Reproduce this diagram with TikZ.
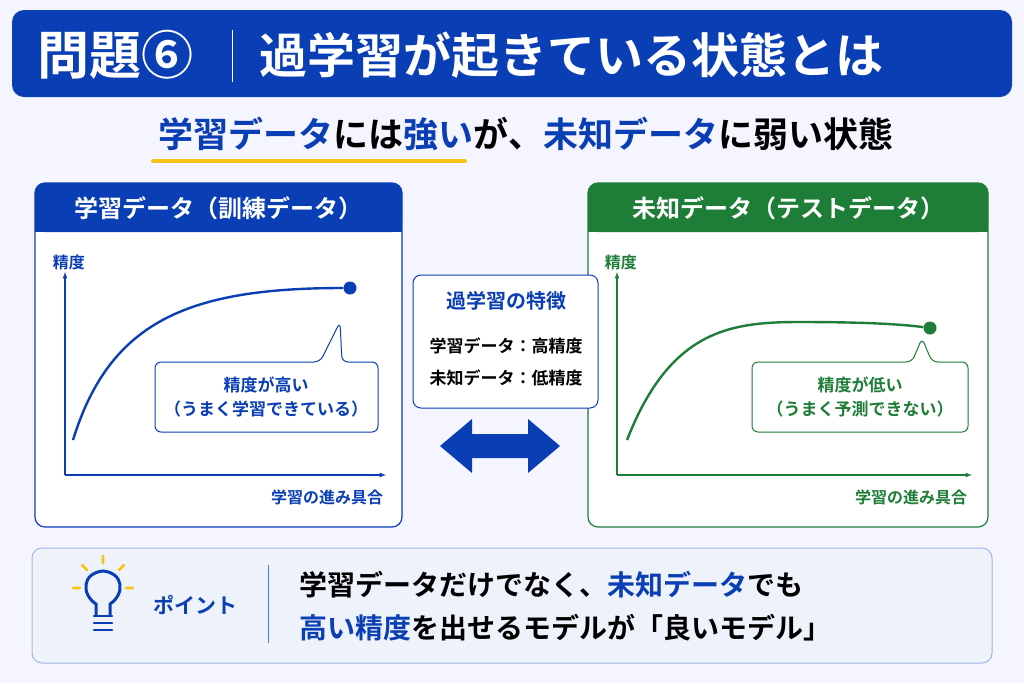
\documentclass[tikz,border=0pt]{standalone}
\usepackage{fontspec}
\setmainfont{Noto Sans CJK JP}
\newfontfamily\jpbold{Noto Sans CJK JP Bold}
\usetikzlibrary{positioning}
\definecolor{mainblue}{RGB}{10,62,180}
\definecolor{maingreen}{RGB}{30,125,55}
\definecolor{pointbg}{RGB}{238,242,251}
\definecolor{pointline}{RGB}{160,180,230}
\definecolor{markyellow}{RGB}{248,196,20}
\tikzset{
  hdr/.style={text=white,font=\jpbold\fontsize{24}{24}\selectfont},
  lbl/.style={font=\jpbold\fontsize{16}{16}\selectfont,inner sep=0.75pt},
  calltext/.style={font=\jpbold\fontsize{17}{19}\selectfont,align=center,inner sep=0.75pt},
}
\begin{document}
\begin{tikzpicture}[x=1pt,y=1pt,yscale=-1]
\useasboundingbox (0,0) rectangle (1024,683);
\fill[white!96!blue] (0,0) rectangle (1024,683);

% Title bar
\fill[mainblue,rounded corners=12] (12,10) rectangle (1012,97);
\node[anchor=west,text=white,font=\jpbold\fontsize{52}{52}\selectfont] (q) at (34,55) {問題⑥};
\draw[white,line width=1] (232,30) -- (232,82);
\node[anchor=west,text=white,font=\jpbold\fontsize{48}{48}\selectfont] (title) at (256,55) {過学習が起きている状態とは};

% Subtitle
\draw[markyellow,line width=4,line cap=round] (153,161) -- (465,161);
\node[font=\jpbold\fontsize{35}{35}\selectfont] (sub) at (526,134) {\textcolor{mainblue}{学習データ}には\textcolor{mainblue}{強い}が、\textcolor{mainblue}{未知データ}に弱い状態};

%Left panel
\fill[white,rounded corners=10] (35,183) rectangle (402,527);
\fill[mainblue,rounded corners=10] (35,183) rectangle (402,232);
\fill[mainblue] (35,215) rectangle (402,232);
\draw[mainblue,line width=1.2,rounded corners=10] (35,183) rectangle (402,527);
\node[hdr] (lh) at (218,208) {学習データ（訓練データ）};
\coordinate (lo) at (65,475);
\coordinate (ly) at (65,272);
\coordinate (lx) at (386,475);
\draw[mainblue,line width=1.2,-latex] (lo) -- (ly);
\draw[mainblue,line width=1.2,-latex] (lo) -- (lx);
\node[lbl,text=mainblue,anchor=west] (lacc) at (52,262) {精度};
\node[lbl,text=mainblue,anchor=east] (lprog) at (384,497) {学習の進み具合};
\coordinate (lstart) at (73,440);
\node[circle,fill=mainblue,inner sep=0,minimum size=13] (ldot) at (350,288) {};
\draw[mainblue,line width=2.4] (lstart) .. controls (110,320) and (190,288) .. (ldot);
\draw[mainblue,line width=1,fill=white,rounded corners=6] (155,362) -- (320,362) -- (340,322) -- (342,362) -- (378,362) -- (378,432) -- (155,432) -- cycle;
\node[calltext,text=mainblue] (lc) at (266,397) {精度が高い\\[5pt]（うまく学習できている）};

%Right panel
\fill[white,rounded corners=10] (588,183) rectangle (988,527);
\fill[maingreen,rounded corners=10] (588,183) rectangle (988,232);
\fill[maingreen] (588,215) rectangle (988,232);
\draw[maingreen,line width=1.2,rounded corners=10] (588,183) rectangle (988,527);
\node[hdr] (rh) at (788,208) {未知データ（テストデータ）};
\coordinate (ro) at (617,475);
\coordinate (ry) at (617,272);
\coordinate (rx) at (972,475);
\draw[maingreen,line width=1.2,-latex] (ro) -- (ry);
\draw[maingreen,line width=1.2,-latex] (ro) -- (rx);
\node[lbl,text=maingreen,anchor=west] (racc) at (604,262) {精度};
\node[lbl,text=maingreen,anchor=east] (rprog) at (968,497) {学習の進み具合};
\coordinate (rstart) at (627,440);
\node[circle,fill=maingreen,inner sep=0,minimum size=13] (rdot) at (930,328) {};
\draw[maingreen,line width=2.4] (rstart) .. controls (670,330) and (730,322) .. (800,322) .. controls (860,322) and (900,324) .. (rdot);
\draw[maingreen,line width=1,fill=white,rounded corners=6] (752,362) -- (912,362) -- (922,338) -- (932,362) -- (968,362) -- (968,432) -- (752,432) -- cycle;
\node[calltext,text=maingreen] (rc) at (860,397) {精度が低い\\[5pt]（うまく予測できない）};

%Middle box
\draw[mainblue,line width=1,fill=white,rounded corners=8] (413,275) rectangle (598,408);
\node[font=\jpbold\fontsize{20}{20}\selectfont,text=mainblue] (feat) at (506,301) {過学習の特徴};
\node[font=\jpbold\fontsize{17}{17}\selectfont] (f1) at (506,346) {学習データ：高精度};
\node[font=\jpbold\fontsize{17}{17}\selectfont] (f2) at (506,378) {未知データ：低精度};
\fill[mainblue] (440,446) -- (472,419) -- (472,434) -- (528,434) -- (528,419) -- (560,446) -- (528,473) -- (528,458) -- (472,458) -- (472,473) -- cycle;

%Point box
\draw[pointline,line width=1,fill=pointbg,rounded corners=10] (32,548) rectangle (992,663);
\draw[mainblue,line width=3] (96,615) -- (96,604) .. controls (81,594) and (82,573) .. (103,571) .. controls (124,573) and (125,594) .. (110,604) -- (110,615);
\foreach \yy in {616,623,630} \draw[mainblue,line width=2.6,line cap=round] (94,\yy) -- (112,\yy);
\draw[markyellow,line width=2.6,line cap=round] (103,556) -- (103,563) (82,565) -- (87,570) (124,565) -- (119,570) (73,588) -- (80,588) (133,588) -- (126,588);
\node[font=\jpbold\fontsize{21}{21}\selectfont,text=mainblue] (pt) at (195,605) {ポイント};
\draw[mainblue!70,line width=1] (268,565) -- (268,643);
\node[anchor=west,font=\jpbold\fontsize{28}{28}\selectfont] (p1) at (296,585) {学習データだけでなく、\textcolor{mainblue}{未知データ}でも};
\node[anchor=west,font=\jpbold\fontsize{28}{28}\selectfont] (p2) at (296,628) {\textcolor{mainblue}{高い精度}を出せるモデルが「良いモデル」};
\end{tikzpicture}
\end{document}
